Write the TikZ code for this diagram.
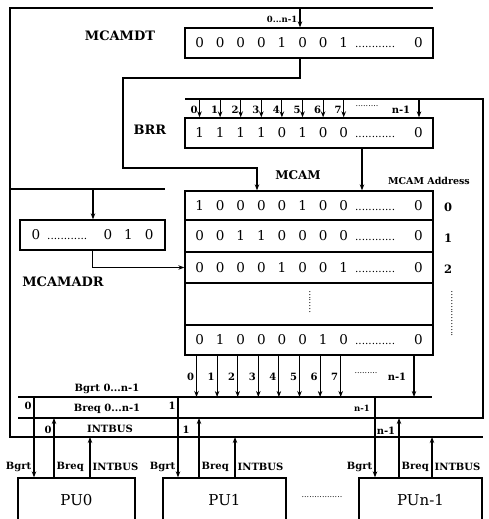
\documentclass[tikz,border=0pt]{standalone}
\usepackage{fontspec}
\setmainfont{DejaVu Serif}
\usetikzlibrary{arrows.meta}
\newcommand\bb[1]{\makebox[20.6pt]{#1}}
\newcommand\dts[1]{\makebox[#1][l]{\hspace{1pt}\fontsize{10.5}{10}\selectfont............}}
\newcommand\bits[8]{\bb{#1}\bb{#2}\bb{#3}\bb{#4}\bb{#5}\bb{#6}\bb{#7}\bb{#8}\dts{54pt}\bb{0}}
\tikzset{
  wire/.style={line width=1.1pt},
  arr/.style={line width=1.1pt,-{Stealth[length=6pt,width=4.5pt]}},
  reg/.style={draw,line width=1.3pt,minimum width=248pt,inner sep=0pt,font=\fontsize{13.5}{15}\selectfont},
  lbl/.style={font=\bfseries\fontsize{13}{15}\selectfont,inner sep=0pt},
  sml/.style={font=\bfseries\fontsize{10}{11}\selectfont,inner sep=0.5pt},
  tiny/.style={font=\bfseries\fontsize{8.5}{9}\selectfont,inner sep=0.5pt},
  pu/.style={draw,line width=1.3pt,minimum height=44pt,inner sep=0pt,font=\fontsize{15}{17}\selectfont},
  vdots/.style={rotate=90,inner sep=0pt,font=\fontsize{9}{9}\selectfont},
}
\begin{document}
\begin{tikzpicture}[x=1pt,y=-1pt]
\clip (0,0) rectangle (488,519);
% registers
\node[reg,minimum height=30pt] (mcamdt) at (309,43) {\bits00001001};
\node[reg,minimum height=30pt] (brr) at (309,133) {\bits11110100};
\node[reg,minimum height=29pt] (row0) at (309,205.5) {\bits10000100};
\node[reg,minimum height=32pt] (row1) at (309,236) {\bits00110000};
\node[reg,minimum height=31pt] (row2) at (309,267.5) {\bits00001001};
\node[reg,minimum height=42pt] (rowd) at (309,304) {};
\node[reg,minimum height=30pt] (rowl) at (309,340) {\bits01000010};
\node[reg,minimum width=145pt,minimum height=30pt] (adr) at (92.5,235) {\bb{0}\dts{51.4pt}\bb{0}\bb{1}\bb{0}};
\node[vdots] (mdots) at (310,302) {........};
% labels
\node[lbl] (lmcamdt) at (120,36) {MCAMDT};
\node[lbl] (lbrr) at (150,130) {BRR};
\node[lbl,font=\bfseries\fontsize{12}{13}\selectfont] (lmcam) at (298,175) {MCAM};
\node[tiny,font=\bfseries\fontsize{9.5}{10}\selectfont] (laddr) at (429,181) {MCAM Address};
\node[lbl] (lmcamadr) at (63,282) {MCAMADR};
\node[lbl,font=\bfseries\fontsize{11.5}{12}\selectfont] (a0) at (448,207) {0};
\node[lbl,font=\bfseries\fontsize{11.5}{12}\selectfont] (a1) at (448,238) {1};
\node[lbl,font=\bfseries\fontsize{11.5}{12}\selectfont] (a2) at (448,269) {2};
\node[vdots] (adots) at (452,314) {................};
% PUs
\node[pu,minimum width=117pt] (pu0) at (76.5,500) {PU0};
\node[pu,minimum width=123pt] (pu1) at (224.5,500) {PU1};
\node[pu,minimum width=123pt] (pun) at (420.5,500) {PUn-1};
\node[inner sep=0pt,font=\fontsize{8}{8}\selectfont] (pudots) at (322,497) {................};
% bus coordinates
\coordinate (tl) at (10,8);
\coordinate (tr) at (433,8);
\coordinate (ib) at (10,437);
\coordinate (ie) at (483,437);
\coordinate (mdin) at (300,8);
\coordinate (al) at (10,189);
\coordinate (ar) at (165,189);
\coordinate (ain) at (93,189);
\coordinate (bbl) at (185,99);
\coordinate (bbr) at (483,99);
\coordinate (bqr) at (483,418);
\coordinate (bql) at (18,418);
\coordinate (bgl) at (18,397);
\coordinate (bgr) at (432,397);
% INTBUS loop
\draw[wire] (tr) -- (tl) -- (ib) -- (ie);
\draw[arr] (mdin) -- (mdin |- mcamdt.north);
\node[tiny,anchor=east] (l0n) at (298,19) {0...n-1};
\draw[wire] (al) -- (ar);
\draw[arr] (ain) -- (ain |- adr.north);
% MCAMDT -> MCAM
\draw[arr] (mcamdt.south -| mdin) |- (123,78) |- (257,168) -- (257,168 |- row0.north);
% BRR -> MCAM
\draw[arr] (362,148 |- brr.south) -- (362,148 |- row0.north);
% MCAMADR -> MCAM row 2
\draw[arr] (adr.south) |- (row2.west);
% Breq loop to BRR
\draw[wire] (bbl) -- (bbr) -- (bqr) -- (bql);
\foreach \i in {0,...,7}{
  \pgfmathsetmacro\xx{199.5+20.6*\i}
  \coordinate (bi\i) at (\xx,99);
  \draw[arr] (bi\i) -- (bi\i |- brr.north);
  \node[sml] (bl\i) at ({\xx-5.5},110) {\i};
}
\coordinate (bin) at (419,99);
\draw[arr] (bin) -- (bin |- brr.north);
\node[inner sep=0pt,font=\fontsize{8}{8}\selectfont] (bdots) at (367,106) {.........};
\node[sml] (bln) at (401,110) {n-1};
% Bgrt bus
\draw[wire] (bgl) -- (bgr);
\foreach \i in {0,...,7}{
  \pgfmathsetmacro\xx{196.5+20.6*\i}
  \coordinate (gi\i) at (\xx,397);
  \draw[arr] (gi\i |- rowl.south) -- (gi\i);
  \node[sml] (gl\i) at ({\xx-6},377) {\i};
}
\coordinate (gin) at (414,397);
\draw[arr] (gin |- rowl.south) -- (gin);
\node[inner sep=0pt,font=\fontsize{8}{8}\selectfont] (gdots) at (366,373) {.........};
\node[sml] (gln) at (397,377) {n-1};
% bus labels
\node[sml] (lbgrt) at (107,389) {Bgrt 0...n-1};
\node[sml] (lbreq) at (107,409) {Breq 0...n-1};
\node[sml] (lint) at (110,429) {INTBUS};
\node[sml] (g0) at (28,406) {0};
\node[sml] (g1) at (172,406) {1};
\node[tiny] (gn) at (362,408) {n-1};
\node[sml] (q0) at (48,430) {0};
\node[sml] (q1) at (186,430) {1};
\node[sml] (qn) at (386,431) {n-1};
% PU connections
\coordinate (g0d) at (34,397);
\coordinate (g1d) at (178,397);
\coordinate (gnd) at (375,397);
\coordinate (q0u) at (54,418);
\coordinate (q1u) at (199,418);
\coordinate (qnu) at (399,418);
\coordinate (i0u) at (90,437);
\coordinate (i1u) at (235,437);
\coordinate (inu) at (432,437);
\draw[arr] (g0d) -- (g0d |- pu0.north);
\draw[arr] (g1d) -- (g1d |- pu1.north);
\draw[arr] (gnd) -- (gnd |- pun.north);
\draw[arr] (q0u |- pu0.north) -- (q0u);
\draw[arr] (q1u |- pu1.north) -- (q1u);
\draw[arr] (qnu |- pun.north) -- (qnu);
\draw[arr] (i0u |- pu0.north) -- (i0u);
\draw[arr] (i1u |- pu1.north) -- (i1u);
\draw[arr] (inu |- pun.north) -- (inu);
\node[sml,anchor=east] (t0a) at (32,467) {Bgrt};
\node[sml,anchor=west] (t0b) at (56,467) {Breq};
\node[sml,anchor=west] (t0c) at (92,467) {INTBUS};
\node[sml,anchor=east] (t1a) at (176,467) {Bgrt};
\node[sml,anchor=west] (t1b) at (201,467) {Breq};
\node[sml,anchor=west] (t1c) at (237,467) {INTBUS};
\node[sml,anchor=east] (tna) at (373,467) {Bgrt};
\node[sml,anchor=west] (tnb) at (401,467) {Breq};
\node[sml,anchor=west] (tnc) at (434,467) {INTBUS};
\end{tikzpicture}
\end{document}
